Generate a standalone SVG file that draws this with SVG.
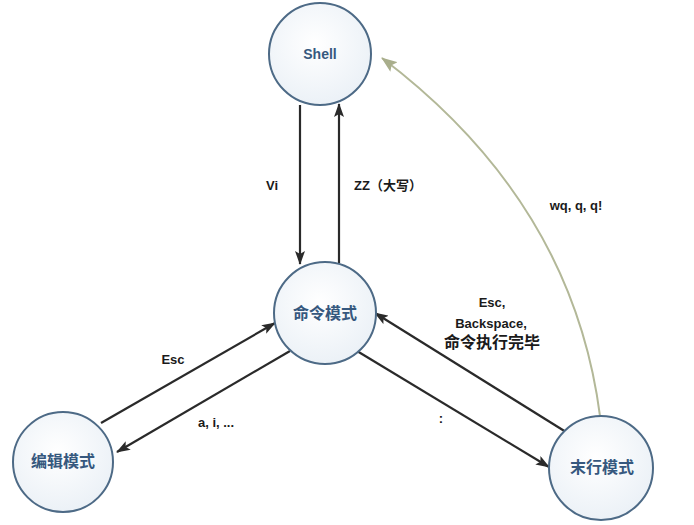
<svg xmlns="http://www.w3.org/2000/svg" width="694" height="525" viewBox="0 0 694 525">
<style>
.node circle{fill:url(#g);stroke:#4d6a86;stroke-width:2}
.nt{font-family:"Liberation Sans","Noto Sans CJK SC",sans-serif;font-weight:bold;fill:#36587e;text-anchor:middle;dominant-baseline:central}
.c{stroke:#2a2a2a;stroke-width:2.2;fill:none;marker-end:url(#a)}
.lb{font-family:"Liberation Sans","Noto Sans CJK SC",sans-serif;font-weight:bold;fill:#1a1a1a;text-anchor:middle;dominant-baseline:central;font-size:13px}
</style>
<defs>
<radialGradient id="g" cx="0.45" cy="0.4" r="0.65">
<stop offset="0" stop-color="#ffffff"/>
<stop offset="1" stop-color="#eaf0f6"/>
</radialGradient>
<marker id="a" viewBox="0 0 14 10" refX="13" refY="5" markerWidth="14" markerHeight="10" markerUnits="userSpaceOnUse" orient="auto">
<path d="M0,0 L14,5 L0,10 L3,5 Z" fill="#2a2a2a"/>
</marker>
<marker id="b" viewBox="0 0 16 12" refX="15" refY="6" markerWidth="16" markerHeight="12" markerUnits="userSpaceOnUse" orient="auto">
<path d="M0,0 L16,6 L0,12 L3,6 Z" fill="#a9ae8c"/>
</marker>
</defs>
<rect width="694" height="525" fill="#ffffff"/>
<g id="connectors">
<line class="c" x1="300" y1="105" x2="300" y2="264"/>
<line class="c" x1="339" y1="263" x2="339" y2="104"/>
<line class="c" x1="101" y1="423" x2="275" y2="323"/>
<line class="c" x1="290" y1="351" x2="117" y2="452"/>
<line class="c" x1="357" y1="351" x2="549" y2="467"/>
<line class="c" x1="566" y1="432" x2="375" y2="313"/>
<path d="M600,416 C585,300 530,170 382,58" stroke="#b3b898" stroke-width="2" fill="none" marker-end="url(#b)"/>
</g>
<g id="labels">
<text class="lb" x="272" y="185">Vi</text>
<text class="lb" x="388" y="185" font-size="14px">ZZ（大写）</text>
<text class="lb" x="173" y="359">Esc</text>
<text class="lb" x="216" y="422">a, i, ...</text>
<text class="lb" x="441" y="418">:</text>
<text class="lb" x="492" y="302">Esc,</text>
<text class="lb" x="491" y="323">Backspace,</text>
<text class="lb" x="492" y="342" style="font-size:16px">命令执行完毕</text>
<text class="lb" x="576" y="205">wq, q, q!</text>
</g>
<g id="node-shell" class="node">
<circle cx="320" cy="54" r="51"/>
<text class="nt" x="320" y="54" font-size="14">Shell</text>
</g>
<g id="node-command" class="node">
<circle cx="325" cy="313" r="51"/>
<text class="nt" x="325" y="313" font-size="16">命令模式</text>
</g>
<g id="node-edit" class="node">
<circle cx="63" cy="462" r="50"/>
<text class="nt" x="63" y="461" font-size="16">编辑模式</text>
</g>
<g id="node-lastline" class="node">
<circle cx="601" cy="468" r="52"/>
<text class="nt" x="602" y="467" font-size="16">末行模式</text>
</g>
</svg>
